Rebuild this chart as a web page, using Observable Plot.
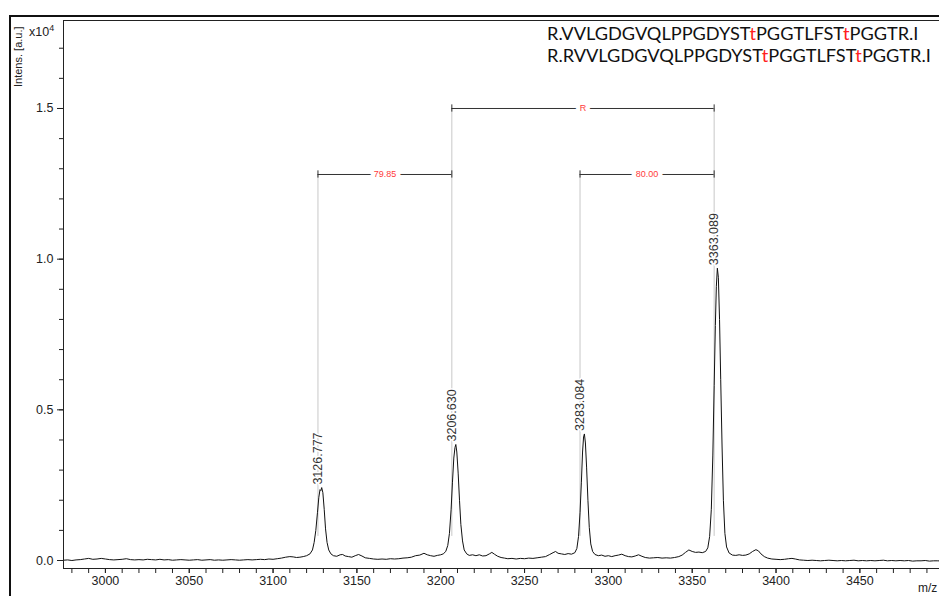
<!DOCTYPE html>
<html>
<head>
<meta charset="utf-8">
<script src="https://cdn.jsdelivr.net/npm/d3@7"></script>
<script src="https://cdn.jsdelivr.net/npm/@observablehq/plot@0.6"></script>
<style>
  html, body { margin: 0; padding: 0; background: white; }
  #wrap { position: relative; width: 939px; height: 596px; overflow: hidden; background: white; }
  #chart { position: absolute; left: 0; top: 0; }
  .ov { position: absolute; white-space: nowrap; }
  .seq { font-family: Lato, "Open Sans", sans-serif; font-size: 18.2px; color: #111; line-height: 22px; left: 547px; }
  .seq .r { color: #ff2020; }
  .lbl { font-family: "Liberation Sans", Arial, sans-serif; color: #222; }
</style>
</head>
<body>
<div id="wrap">
  <div id="chart"></div>
  <div class="ov" style="left:9px;top:15px;width:940px;height:2px;background:#111"></div>
  <div class="ov" style="left:9px;top:15px;width:2px;height:600px;background:#111"></div>
  <div class="ov lbl" style="left:0;top:0;font-size:11px;line-height:12px;transform-origin:0 0;transform:translate(12px,87px) rotate(-90deg)">Intens. [a.u.]</div>
  <div class="ov lbl" style="left:29px;top:21px;font-size:12.5px;line-height:14px">x10<sup style="font-size:9px;vertical-align:5px">4</sup></div>
  <div class="ov seq" style="top:22px">R.VVLGDGVQLPPGDYST<span class="r">t</span>PGGTLFST<span class="r">t</span>PGGTR.I</div>
  <div class="ov seq" style="top:44px">R.RVVLGDGVQLPPGDYST<span class="r">t</span>PGGTLFST<span class="r">t</span>PGGTR.I</div>
  <div class="ov lbl" style="left:918px;top:581px;font-size:12px">m/z</div>
</div>
<script>
// Spectrum trace (m/z, intensity in units of 10^4 a.u.)
const spectrumMz = [
2975,2977.5,2980,2982.5,2985,2987.5,2990,2992.5,2995,2997.5,3000,3002.5,3005,3007.5,3010,3012.5,3015,3017.5,3020,3022.5,
3025,3027.5,3030,3032.5,3035,3037.5,3040,3042.5,3045,3047.5,3050,3052.5,3055,3057.5,3060,3062.5,3065,3067.5,3070,3072.5,
3075,3077.5,3080,3082.5,3085,3087.5,3090,3092.5,3095,3097.5,3100,3102.5,3105,3107.5,3110,3112,3114,3116,3118,3120,
3122,3123.5,3124.5,3125.5,3126.5,3127.3,3128,3128.5,3129,3129.7,3130.5,3131.3,3132.2,3133.2,3134.5,3136,3138,3140,3141.5,3143,
3145,3147,3149,3151,3153,3155,3157.5,3160,3162.5,3165,3167.5,3170,3172.5,3175,3177.5,3180,3182.5,3185,3187.5,3190,
3192,3194,3196,3198,3200,3201.5,3203,3204.2,3205.2,3206.2,3207,3207.8,3208.5,3209,3209.6,3210.4,3211.2,3212,3213,3214,
3215.5,3217,3219,3221,3223,3225,3227,3229,3230.5,3232,3234,3236,3238,3240,3242.5,3245,3247.5,3250,3252.5,3255,
3257.5,3260,3262.5,3265,3267,3268.5,3270,3272,3274,3276,3278,3280,3281.2,3282.2,3283.1,3283.9,3284.6,3285.2,3285.7,3286.3,
3287,3287.8,3288.6,3289.5,3290.6,3292,3294,3296,3298,3300,3302,3304,3306,3308,3310,3312,3314,3316,3318,3320,
3322,3324.5,3327,3329.5,3332,3334.5,3337,3339.5,3342,3344,3346,3348,3350,3352,3354,3356,3358,3359.3,3360.4,3361.4,
3362.3,3363.1,3363.8,3364.4,3365,3365.6,3366.3,3367,3367.8,3368.6,3369.5,3370.5,3372,3374,3376,3378,3380,3382,3384,3386,
3388,3389.5,3391,3393,3395,3397.5,3400,3402.5,3405,3407.5,3409.5,3411.5,3414,3416.5,3419,3421.5,3424,3426.5,3429,3431.5,
3434,3436.5,3439,3441.5,3444,3446.5,3449,3451.5,3454,3456.5,3459,3461.5,3464,3466.5,3469,3471.5,3474,3476.5,3479,3481.5,
3484,3486.5,3489,3491.5,3494,3496.5,3499];
const spectrumIntensity = [
0.001,0.002,0.000,0.002,0.003,0.005,0.007,0.004,0.005,0.007,0.005,0.003,0.002,0.003,0.004,0.006,0.003,0.002,0.003,0.002,
0.004,0.003,0.002,0.004,0.002,0.003,0.001,0.002,0.003,0.002,0.001,0.002,0.003,0.001,0.002,0.003,0.001,0.002,0.001,0.002,
0.003,0.002,0.001,0.002,0.003,0.002,0.003,0.004,0.003,0.005,0.004,0.006,0.008,0.011,0.013,0.012,0.010,0.011,0.013,0.016,
0.022,0.035,0.060,0.100,0.160,0.210,0.235,0.232,0.242,0.225,0.170,0.105,0.060,0.035,0.022,0.016,0.014,0.019,0.020,0.015,
0.013,0.011,0.016,0.020,0.015,0.009,0.007,0.005,0.004,0.005,0.004,0.006,0.005,0.006,0.008,0.009,0.011,0.016,0.018,0.024,
0.019,0.016,0.014,0.017,0.019,0.022,0.030,0.050,0.090,0.170,0.260,0.340,0.375,0.385,0.360,0.290,0.200,0.120,0.065,0.035,
0.022,0.017,0.019,0.016,0.019,0.015,0.016,0.022,0.027,0.021,0.014,0.010,0.008,0.006,0.007,0.005,0.007,0.006,0.008,0.007,
0.009,0.011,0.013,0.020,0.026,0.030,0.024,0.022,0.020,0.023,0.021,0.026,0.040,0.080,0.160,0.260,0.360,0.410,0.420,0.390,
0.310,0.200,0.110,0.055,0.030,0.020,0.016,0.018,0.014,0.016,0.013,0.016,0.018,0.021,0.016,0.013,0.012,0.015,0.019,0.014,
0.010,0.008,0.009,0.010,0.008,0.009,0.008,0.010,0.013,0.018,0.027,0.035,0.030,0.027,0.028,0.026,0.030,0.042,0.080,0.170,
0.350,0.580,0.780,0.910,0.970,0.940,0.800,0.600,0.380,0.200,0.090,0.045,0.025,0.018,0.017,0.019,0.017,0.018,0.022,0.030,
0.036,0.032,0.022,0.013,0.008,0.005,0.004,0.003,0.004,0.006,0.007,0.005,0.002,0.001,0.000,0.001,0.000,-0.001,0.000,0.001,
0.000,-0.001,0.000,-0.001,0.000,0.001,-0.001,0.000,-0.001,0.000,-0.001,0.000,0.001,-0.001,0.000,-0.001,0.000,-0.001,0.000,-0.002,
-0.001,-0.001,0.000,-0.002,-0.001,-0.001,-0.002];

// Labelled peaks
const peakLabels = ["3126.777", "3206.630", "3283.084", "3363.089"];
const peakMz = [3126.777, 3206.630, 3283.084, 3363.089];
const peakApex = [0.242, 0.385, 0.420, 0.970];

// Mass-difference brackets
const gapFrom = [3126.777, 3206.630, 3283.084];
const gapTo = [3206.630, 3363.089, 3363.089];
const gapLevel = [1.281, 1.5, 1.281];
const gapLabels = ["79.85", "R", "80.00"];

// Axis ticks
const xTickLabels = [3000, 3050, 3100, 3150, 3200, 3250, 3300, 3350, 3400, 3450];
const yTickLabels = [0.0, 0.5, 1.0, 1.5];
const xDomain = [2975, 3497.5];
const yDomain = [-0.0265, 1.792];

const spectrum = spectrumMz.map((m, i) => ({mz: m, v: spectrumIntensity[i]}));
const gaps = gapFrom.map((f, i) => ({from: f, to: gapTo[i], level: gapLevel[i], label: gapLabels[i]}));
const peaks = peakMz.map((m, i) => ({
  mz: m, apex: peakApex[i], label: peakLabels[i],
  top: d3.max(gaps.filter(g => g.from === m || g.to === m), g => g.level)
}));
const gapEnds = gaps.flatMap(g => [{x: g.from, level: g.level}, {x: g.to, level: g.level}]);

const chart = Plot.plot({
  width: 939,
  height: 596,
  marginLeft: 63,
  marginRight: 0,
  marginTop: 20,
  marginBottom: 28,
  style: {fontFamily: "'Liberation Sans', Arial, sans-serif", fontSize: "12.5px", color: "#222", background: "white"},
  x: {domain: xDomain, label: null},
  y: {domain: yDomain, label: null},
  marks: [
    Plot.ruleX(peaks, {x: "mz", y1: "top", y2: 0.08, stroke: "#c8c8c8", strokeWidth: 1}),
    Plot.line(spectrum, {x: "mz", y: "v", stroke: "#111", strokeWidth: 1}),
    Plot.ruleY(gaps, {x1: "from", x2: "to", y: "level", stroke: "#333", strokeWidth: 1}),
    Plot.ruleX(gapEnds, {x: "x", y1: d => d.level - 0.012, y2: d => d.level + 0.012, stroke: "#333", strokeWidth: 1}),
    Plot.text(gaps, {x: d => (d.from + d.to) / 2, y: "level", text: "label", fill: "#ff3b3b", stroke: "white", strokeWidth: 9, fontSize: 9}),
    Plot.text(peaks, {x: "mz", y: "apex", text: "label", rotate: -90, textAnchor: "start", dy: -3, fill: "#333", stroke: "white", strokeWidth: 3, fontSize: 12.5}),
    Plot.ruleX([xDomain[0]], {stroke: "#222", strokeWidth: 1}),
    Plot.ruleY(yDomain, {stroke: "#222", strokeWidth: 1}),
    Plot.axisX(d3.range(2980, 3500, 10), {tickSize: 5, tickFormat: () => "", label: null, stroke: "#222"}),
    Plot.axisX(xTickLabels, {tickSize: 5, tickPadding: 3, tickFormat: d => String(d), label: null, stroke: "#222"}),
    Plot.axisY(d3.range(0, 18).map(i => i / 10), {tickSize: 4, tickFormat: () => "", label: null, stroke: "#222"}),
    Plot.axisY(yTickLabels, {tickSize: 6, tickPadding: 4, tickFormat: d3.format(".1f"), label: null, stroke: "#222"})
  ]
});
document.getElementById("chart").appendChild(chart);
</script>
</body>
</html>
